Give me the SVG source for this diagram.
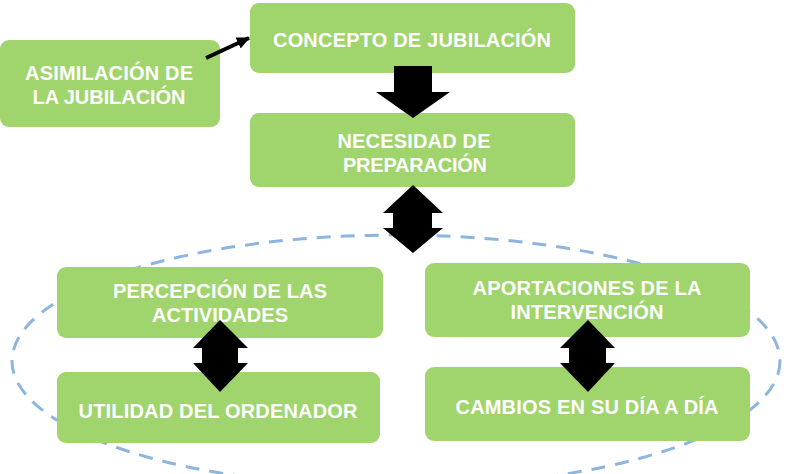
<svg xmlns="http://www.w3.org/2000/svg" width="788" height="474" viewBox="0 0 788 474">
<style>
.box{fill:#a0d46c;}
.t{font-family:"Liberation Sans",Arial,sans-serif;font-weight:bold;font-size:20px;fill:#ffffff;text-anchor:middle;}
.arr{fill:#000000;}
.ell{fill:none;stroke:#8db5df;stroke-width:3;stroke-dasharray:14 10;}
</style>
<defs>
<marker id="ah" markerWidth="14" markerHeight="14" refX="12" refY="7" orient="auto" markerUnits="userSpaceOnUse">
<path d="M0,1 L13,7 L0,13 z" fill="#000"/>
</marker>
</defs>
<rect width="788" height="474" fill="#ffffff"/>
<ellipse class="ell" cx="396" cy="361" rx="384" ry="126"/>
<g id="asimilacion">
<rect class="box" x="0" y="40" width="220" height="87" rx="9"/>
<text class="t" x="109" y="80" textLength="168" lengthAdjust="spacing">ASIMILACIÓN DE</text>
<text class="t" x="109" y="104" textLength="153" lengthAdjust="spacing">LA JUBILACIÓN</text>
</g>
<g id="concepto">
<rect class="box" x="250" y="3" width="325" height="70" rx="9"/>
<text class="t" x="412" y="47" textLength="278" lengthAdjust="spacing">CONCEPTO DE JUBILACIÓN</text>
</g>
<g id="necesidad">
<rect class="box" x="250" y="113" width="325" height="74" rx="9"/>
<text class="t" x="414" y="148" textLength="153" lengthAdjust="spacing">NECESIDAD DE</text>
<text class="t" x="415" y="172" textLength="144" lengthAdjust="spacing">PREPARACIÓN</text>
</g>
<g id="percepcion">
<rect class="box" x="57" y="267" width="326" height="71" rx="9"/>
<text class="t" x="220" y="298" textLength="214" lengthAdjust="spacing">PERCEPCIÓN DE LAS</text>
<text class="t" x="220" y="322" textLength="136" lengthAdjust="spacing">ACTIVIDADES</text>
</g>
<g id="utilidad">
<rect class="box" x="57" y="372" width="323" height="71" rx="9"/>
<text class="t" x="218" y="418" textLength="279" lengthAdjust="spacing">UTILIDAD DEL ORDENADOR</text>
</g>
<g id="aportaciones">
<rect class="box" x="425" y="263" width="325" height="74" rx="9"/>
<text class="t" x="587" y="295" textLength="229" lengthAdjust="spacing">APORTACIONES DE LA</text>
<text class="t" x="587" y="319" textLength="153" lengthAdjust="spacing">INTERVENCIÓN</text>
</g>
<g id="cambios">
<rect class="box" x="425" y="367" width="325" height="74" rx="9"/>
<text class="t" x="587" y="414" textLength="263" lengthAdjust="spacing">CAMBIOS EN SU DÍA A DÍA</text>
</g>
<g id="connectors">
<line x1="206" y1="58" x2="249" y2="38" stroke="#000" stroke-width="4" marker-end="url(#ah)"/>
<polygon class="arr" points="394,66 432,66 432,92 450,92 413,118 376,92 394,92"/>
<polygon class="arr" points="413,185 443,213 432,213 432,228 443,228 413,253 383,228 393,228 393,213 383,213"/>
<polygon class="arr" points="220,320 248,348 238,348 238,363 248,363 220,392 193,363 202,363 202,348 193,348"/>
<polygon class="arr" points="588,320 615,348 606,348 606,363 615,363 588,392 560,363 569,363 569,348 560,348"/>
</g>
</svg>
